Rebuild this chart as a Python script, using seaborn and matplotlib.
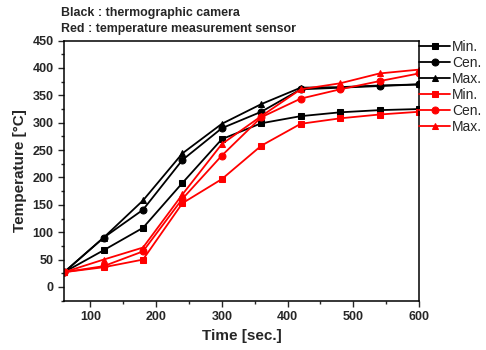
import matplotlib
matplotlib.use("Agg")
import matplotlib.pyplot as plt
from matplotlib.ticker import MultipleLocator
import pandas as pd
import seaborn as sns

time_s = [60, 120, 180, 240, 300, 360, 420, 480, 540, 600]
cam_min = [27, 67, 108, 190, 270, 299, 312, 319, 323, 325]
cam_cen = [27, 90, 141, 232, 290, 320, 361, 364, 367, 370]
cam_max = [27, 90, 158, 244, 298, 334, 364, 365, 368, 370]
sen_min = [27, 36, 50, 153, 197, 258, 298, 308, 315, 320]
sen_cen = [27, 38, 65, 161, 240, 310, 344, 361, 376, 390]
sen_max = [27, 50, 72, 169, 261, 312, 361, 372, 390, 397]

series = [
    ("Min.", cam_min, "black", "s"),
    ("Cen.", cam_cen, "black", "o"),
    ("Max.", cam_max, "black", "^"),
    ("Min.", sen_min, "red", "s"),
    ("Cen.", sen_cen, "red", "o"),
    ("Max.", sen_max, "red", "^"),
]

sns.set_style("ticks")
plt.rcParams["font.family"] = ["Liberation Sans", "DejaVu Sans"]

fig = plt.figure(figsize=(4.86, 3.5), dpi=100)
ax = fig.add_axes([0.132, 0.141, 0.730, 0.743])

for label, vals, color, marker in series:
    df = pd.DataFrame({"time": time_s, "temp": vals})
    sns.lineplot(data=df, x="time", y="temp", ax=ax, color=color, marker=marker,
                 markersize=5, markeredgecolor=color, linewidth=1.3, label=label)

ax.set_xlim(60, 600)
ax.set_ylim(-25, 450)
ax.xaxis.set_major_locator(MultipleLocator(100))
ax.xaxis.set_minor_locator(MultipleLocator(50))
ax.yaxis.set_major_locator(MultipleLocator(50))
ax.yaxis.set_minor_locator(MultipleLocator(25))
ax.tick_params(which="major", direction="out", length=4, width=1, labelsize=9)
ax.tick_params(which="minor", direction="out", length=2.5, width=1)
for lab in ax.get_xticklabels() + ax.get_yticklabels():
    lab.set_fontweight("bold")
for sp in ax.spines.values():
    sp.set_linewidth(1.1)
    sp.set_color("black")

ax.set_xlabel("Time [sec.]", fontsize=11, fontweight="bold")
ax.set_ylabel("Temperature [\u00b0C]", fontsize=11, fontweight="bold")

fig.text(0.126, 0.963, "Black : thermographic camera", fontsize=8.9, fontweight="bold", va="center")
fig.text(0.126, 0.918, "Red : temperature measurement sensor", fontsize=8.9, fontweight="bold", va="center")

leg = ax.legend(loc="upper left", bbox_to_anchor=(1.0, 1.003), borderaxespad=0,
                frameon=False, fontsize=10, handlelength=2.25,
                handletextpad=0.15, labelspacing=0.15, borderpad=0)

fig.savefig("out.png", dpi=100)
